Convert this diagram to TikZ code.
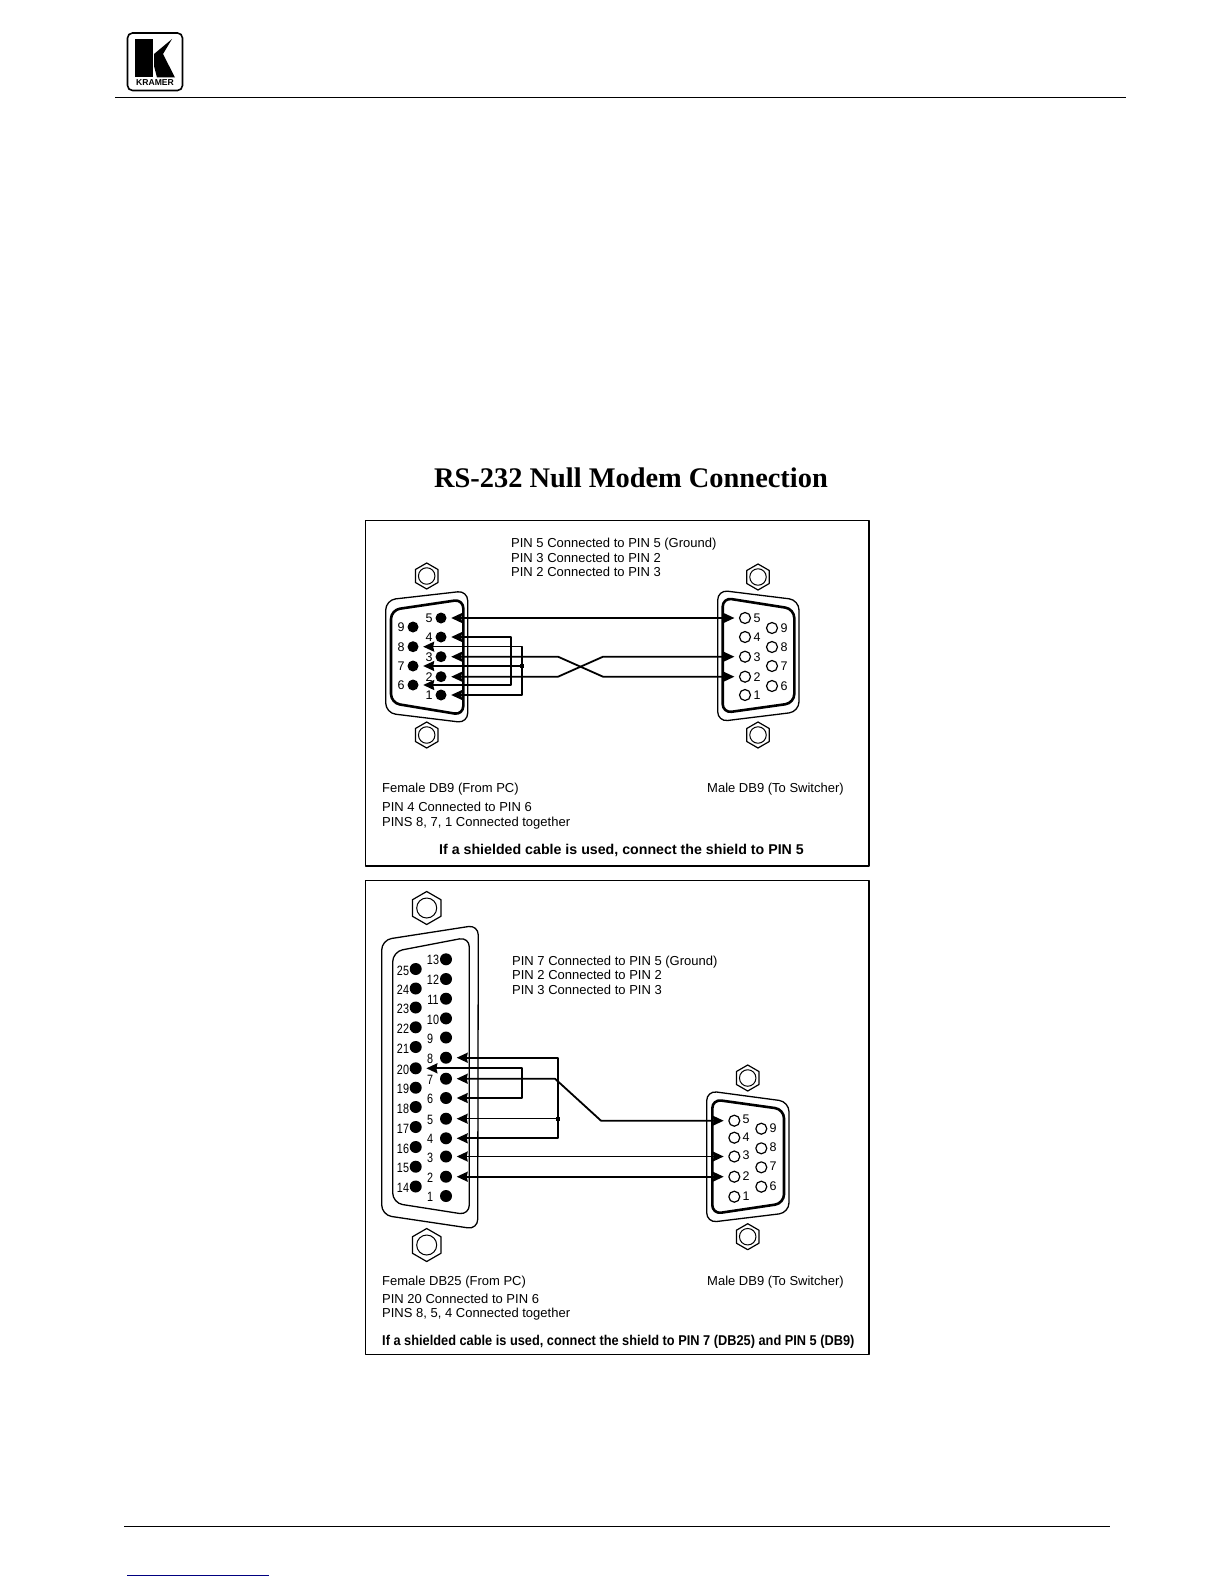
\documentclass[tikz,border=0pt]{standalone}
\usepackage{fontspec}
\setmainfont{Liberation Sans}
\newfontfamily\titlefont{Liberation Serif}
\newfontfamily\narrowfont[FakeStretch=0.8]{Liberation Sans}
\newfontfamily\widerfont[FakeStretch=0.9]{Liberation Sans}
\usetikzlibrary{arrows.meta,shapes.geometric}
\tikzset{
	shell/.style={line width=1.3pt, rounded corners=10pt},
	shellin/.style={line width=2.6pt, rounded corners=9pt},
	nut/.style={draw, regular polygon, regular polygon sides=6, shape border rotate=30, inner sep=0pt, line width=1.2pt},
	nuthole/.style={draw, circle, inner sep=0pt, line width=1pt},
	pinfull/.style={circle, fill=black, inner sep=0pt, minimum size=11pt},
	pinopen/.style={circle, draw, fill=white, inner sep=0pt, line width=1.2pt, minimum size=11pt},
	pinnum/.style={inner sep=0pt, font=\fontsize{12.5}{14}\selectfont},
	pinnar/.style={inner sep=0pt, font=\fontsize{13.5}{14}\selectfont\narrowfont},
	wire/.style={line width=1.8pt, <->, shorten <=4.5pt, shorten >=4.5pt},
	wirethin/.style={wire, line width=1.3pt},
	note/.style={anchor=west, inner sep=0pt, text height=10.5pt, text depth=0.5pt, font=\fontsize{13}{14}\selectfont},
	joint/.style={rectangle, fill=black, inner sep=0pt, minimum size=4pt}
}
\begin{document}
\begin{tikzpicture}[x=1pt, y=-1pt, line join=round, >={Stealth[length=11pt,width=10pt,inset=1pt]}]
	\useasboundingbox (0,0) rectangle (1224,1584);
	% page header and footer
	\draw[line width=1.6pt, rounded corners=5pt] (127.5,33) rectangle (182.5,90.5);
	\fill (135,39) rectangle (152.5,77.5);
	\fill (154,54) -- (172,39) -- (163,54) -- (175,77.5) -- (157,77.5) -- (154,66) -- cycle;
	\node[inner sep=0pt, font=\fontsize{8.6}{9}\bfseries\selectfont] (brand) at (155,83) {KRAMER};
	\draw[line width=1pt] (115,97.5) -- (1126,97.5);
	\draw[line width=1pt] (124,1526) -- (1110,1526);
	\draw[line width=1pt, color=blue!50!black] (127,1575.3) -- (269,1575.3);
	\node[inner sep=0pt, font=\fontsize{28.4}{30}\bfseries\selectfont\titlefont] (title) at (631,478) {RS-232 Null Modem Connection};
	\draw[line width=1.4pt] (365.5,520.5) rectangle (869,866);
	\draw[line width=1.4pt] (365.5,880.5) rectangle (869,1354.5);
	% upper box, texts
	\node[note] (ta1) at (511,542.5) {PIN 5 Connected to PIN 5 (Ground)};
	\node[note] (ta2) at (511,557) {PIN 3 Connected to PIN 2};
	\node[note] (ta3) at (511,571.5) {PIN 2 Connected to PIN 3};
	\node[note] (ta4) at (382,787) {Female DB9 (From PC)};
	\node[note] (ta5) at (707,787) {Male DB9 (To Switcher)};
	\node[note] (ta6) at (382,806.5) {PIN 4 Connected to PIN 6};
	\node[note] (ta7) at (382,821) {PINS 8, 7, 1 Connected together};
	\node[note, anchor=center, font=\fontsize{14.2}{14}\bfseries\selectfont] (ta8) at (621.5,849.5) {If a shielded cable is used, connect the shield to PIN 5};
	% upper box, female DB9
	\draw[shell] (385.7,600) -- (467.7,590.7) -- (467.7,723) -- (385.7,713) -- cycle;
	\draw[shellin] (391,610) -- (463.3,599.3) -- (463.3,715) -- (391,703) -- cycle;
	\foreach \n/\x/\y in {a1/426.7/576, a2/426.7/735, a3/758/577, a4/758/735}{
		\node[nut, minimum size=26pt] (nut\n) at (\x,\y) {};
		\node[nuthole, minimum size=16.5pt] (hole\n) at (nut\n) {};
	}
	\foreach \n/\y in {5/618,4/637,3/656.7,2/676.7,1/695}{
		\node[pinfull] (fa\n) at (441,\y) {};
		\node[pinnum] (fal\n) at (429,\y) {\n};
	}
	\foreach \n/\y in {9/627,8/646.7,7/666,6/685}{
		\node[pinfull] (fa\n) at (413,\y) {};
		\node[pinnum] (fal\n) at (401,\y) {\n};
	}
	% upper box, male DB9
	\draw[shell] (717.7,590) -- (799,600) -- (799,711.7) -- (717.7,721.7) -- cycle;
	\draw[shellin] (722.7,597.7) -- (794.3,609) -- (794.3,703) -- (722.7,713) -- cycle;
	\foreach \n/\y in {5/618,4/637,3/656.7,2/676.7,1/695}{
		\node[pinopen] (ma\n) at (745,\y) {};
		\node[pinnum] (mal\n) at (757,\y) {\n};
	}
	\foreach \n/\y in {9/628,8/647,7/666,6/686}{
		\node[pinopen] (ma\n) at (772,\y) {};
		\node[pinnum] (mal\n) at (784,\y) {\n};
	}
	% upper box, wiring
	\coordinate (bend1) at (511,637);
	\coordinate (bend2) at (511,685);
	\coordinate (bend3) at (522,646.7);
	\coordinate (bend4) at (522,695);
	\node[joint] (ja) at (522,666) {};
	\draw[wire] (fa5) -- (ma5);
	\draw[wire] (fa4) -- (bend1) -- (bend2) -- (fa6);
	\draw[wirethin] (fa8) -- (bend3) -- (bend4) -- (fa1);
	\draw[wirethin, ->, shorten <=0pt] (ja) -- (fa7);
	\draw[wire] (fa3) -- (558,656.7) -- (603,676.7) -- (ma2);
	\draw[wire] (fa2) -- (558,676.7) -- (603,656.7) -- (ma3);
	% lower box, texts
	\node[note] (tb1) at (512,960) {PIN 7 Connected to PIN 5 (Ground)};
	\node[note] (tb2) at (512,974.5) {PIN 2 Connected to PIN 2};
	\node[note] (tb3) at (512,989) {PIN 3 Connected to PIN 3};
	\node[note] (tb4) at (382,1280) {Female DB25 (From PC)};
	\node[note] (tb5) at (707,1280) {Male DB9 (To Switcher)};
	\node[note] (tb6) at (382,1298) {PIN 20 Connected to PIN 6};
	\node[note] (tb7) at (382,1312.5) {PINS 8, 5, 4 Connected together};
	\node[note, font=\fontsize{14.2}{14}\bfseries\selectfont\widerfont] (tb8) at (382,1340.5) {If a shielded cable is used, connect the shield to PIN 7 (DB25) and PIN 5 (DB9)};
	% lower box, female DB25
	\draw[shell] (381.7,940) -- (478.3,925) -- (477.7,1229.3) -- (381.7,1215) -- cycle;
	\draw[shell] (392.7,951.7) -- (469.3,937) -- (469.3,1215) -- (392.7,1203) -- cycle;
	\foreach \n/\y in {b1/908, b2/1245}{
		\node[nut, minimum size=33pt] (nut\n) at (426.7,\y) {};
		\node[nuthole, minimum size=20pt] (hole\n) at (nut\n) {};
	}
	\foreach \n/\y/\l in {13/959.3/433,12/979/433,11/998.7/433,10/1018.4/433,9/1037.5/430,8/1057.7/430,7/1078.7/430,6/1098/430,5/1118.7/430,4/1138.3/430,3/1156.5/430,2/1176.7/430,1/1196/430}{
		\node[pinfull, minimum size=12pt] (fb\n) at (446,\y) {};
		\node[pinnar] (fbl\n) at (\l,\y+1) {\n};
	}
	\foreach \n/\y in {25/969,24/988.5,23/1007.5,22/1027.3,21/1047,20/1068.3,19/1087.7,18/1107,17/1127,16/1147,15/1166.7,14/1186.5}{
		\node[pinfull, minimum size=12pt] (fb\n) at (415.7,\y) {};
		\node[pinnar] (fbl\n) at (403,\y+1.5) {\n};
	}
	% lower box, male DB9
	\draw[shell] (706.7,1090.7) -- (789,1101.7) -- (789,1212.7) -- (706.7,1222.7) -- cycle;
	\draw[shellin] (712.3,1099.3) -- (784,1109.3) -- (784,1203.3) -- (712.3,1214) -- cycle;
	\foreach \n/\y in {b3/1078, b4/1236.7}{
		\node[nut, minimum size=26pt] (nut\n) at (747.7,\y) {};
		\node[nuthole, minimum size=16.5pt] (hole\n) at (nut\n) {};
	}
	\foreach \n/\y in {5/1120.7,4/1137.7,3/1156.5,2/1176.7,1/1196.7}{
		\node[pinopen] (mb\n) at (734.3,\y) {};
		\node[pinnum] (mbl\n) at (746,\y-1) {\n};
	}
	\foreach \n/\y in {9/1128.7,8/1148.3,7/1167.3,6/1186.7}{
		\node[pinopen] (mb\n) at (761.3,\y) {};
		\node[pinnum] (mbl\n) at (773,\y-1) {\n};
	}
	% lower box, wiring
	\coordinate (bend5) at (557.7,1057.7);
	\coordinate (bend6) at (557.7,1138.3);
	\coordinate (bend7) at (522.3,1068.3);
	\coordinate (bend8) at (522.3,1098);
	\node[joint] (jb) at (557.7,1118.7) {};
	\draw[wire] (fb8) -- (bend5) -- (bend6) -- (fb4);
	\draw[wire] (fb20) -- (bend7) -- (bend8) -- (fb6);
	\draw[wirethin, ->, shorten <=0pt] (jb) -- (fb5);
	\draw[wire] (fb7) -- (555,1078.7) -- (601,1120.7) -- (mb5);
	\draw[wire] (fb3) -- (mb3);
	\draw[wire] (fb2) -- (mb2);
\end{tikzpicture}
\end{document}
